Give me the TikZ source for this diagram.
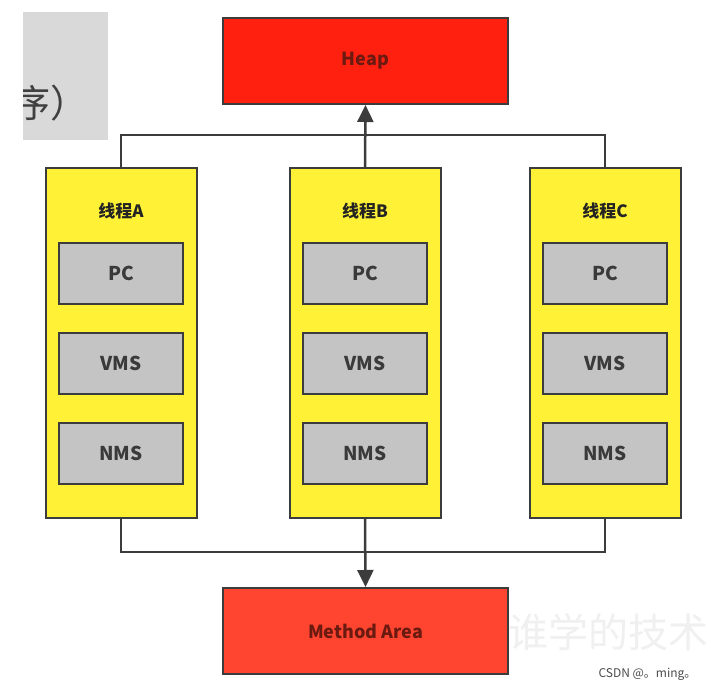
\documentclass[tikz,border=0pt]{standalone}
\usepackage{fontspec}
\setmainfont{Noto Sans CJK SC}
\usetikzlibrary{arrows.meta}
\definecolor{lineC}{HTML}{3C3C3C}
\definecolor{heapC}{HTML}{FF2010}
\definecolor{methC}{HTML}{FF4530}
\definecolor{threadC}{HTML}{FFF236}
\definecolor{regC}{HTML}{C4C4C4}
\definecolor{txtC}{HTML}{3A3A3A}
\definecolor{redtxt}{HTML}{6A1A10}
\tikzset{
  box/.style={draw=lineC, line width=2pt, inner sep=0pt},
  threadbox/.style={box, fill=threadC, minimum width=151pt, minimum height=350pt, anchor=north},
  regbox/.style={box, fill=regC, minimum width=124pt, minimum height=61pt, anchor=north,
     font=\fontsize{19}{21}\selectfont\bfseries, text=txtC},
  area/.style={box, minimum width=285pt, minimum height=86pt, anchor=north west,
     font=\fontsize{18}{20}\selectfont\bfseries, text=redtxt},
  tlabel/.style={font=\fontsize{17}{19}\selectfont\bfseries, text=txtC!60!black},
  conn/.style={draw=lineC, line width=2.5pt},
  arr/.style={conn, -{Triangle[length=17pt,width=16pt]}}
}
\begin{document}
\begin{tikzpicture}[x=1pt,y=-1pt]
\useasboundingbox (0,0) rectangle (711,691);
\fill[white] (0,0) rectangle (711,691);
% gray partial panel
\fill[gray!30] (23,12) rectangle (108,140);
\begin{scope}
\clip (23,12) rectangle (108,140);
\node[font=\fontsize{38}{40}\selectfont, text=black!75, anchor=west, inner sep=0pt] (cut) at (12,103) {序）};
\end{scope}
% faint watermark
\node[font=\fontsize{40}{44}\selectfont, text=black!6, anchor=west] (wm) at (505,632) {谁学的技术};
\node[font=\fontsize{12}{14}\selectfont, text=black!70, anchor=east] (csdn) at (700,674) {CSDN @。ming。};
% top & bottom areas
\node[area, fill=heapC] (heap) at (222,17) {Heap};
\node[area, fill=methC] (meth) at (222,587) {Method Area};
% threads
\foreach \n/\x in {A/121, B/365, C/605}{
  \node[threadbox] (t\n) at (\x,167) {};
  \node[tlabel] (l\n) at (\x,211) {线程\n};
  \node[regbox] (pc\n) at (\x,242) {PC};
  \node[regbox] (vms\n) at (\x,332) {VMS};
  \node[regbox] (nms\n) at (\x,422) {NMS};
}
\coordinate (topA) at (121,135);
\coordinate (topC) at (605,135);
\coordinate (botA) at (121,552);
\coordinate (botC) at (605,552);
\draw[conn] (tA.north) -- (topA) -- (topC) -- (tC.north);
\draw[arr] (tB.north) -- (heap.south);
\draw[conn] (tA.south) -- (botA) -- (botC) -- (tC.south);
\draw[arr] (tB.south) -- (meth.north);
\end{tikzpicture}
\end{document}
